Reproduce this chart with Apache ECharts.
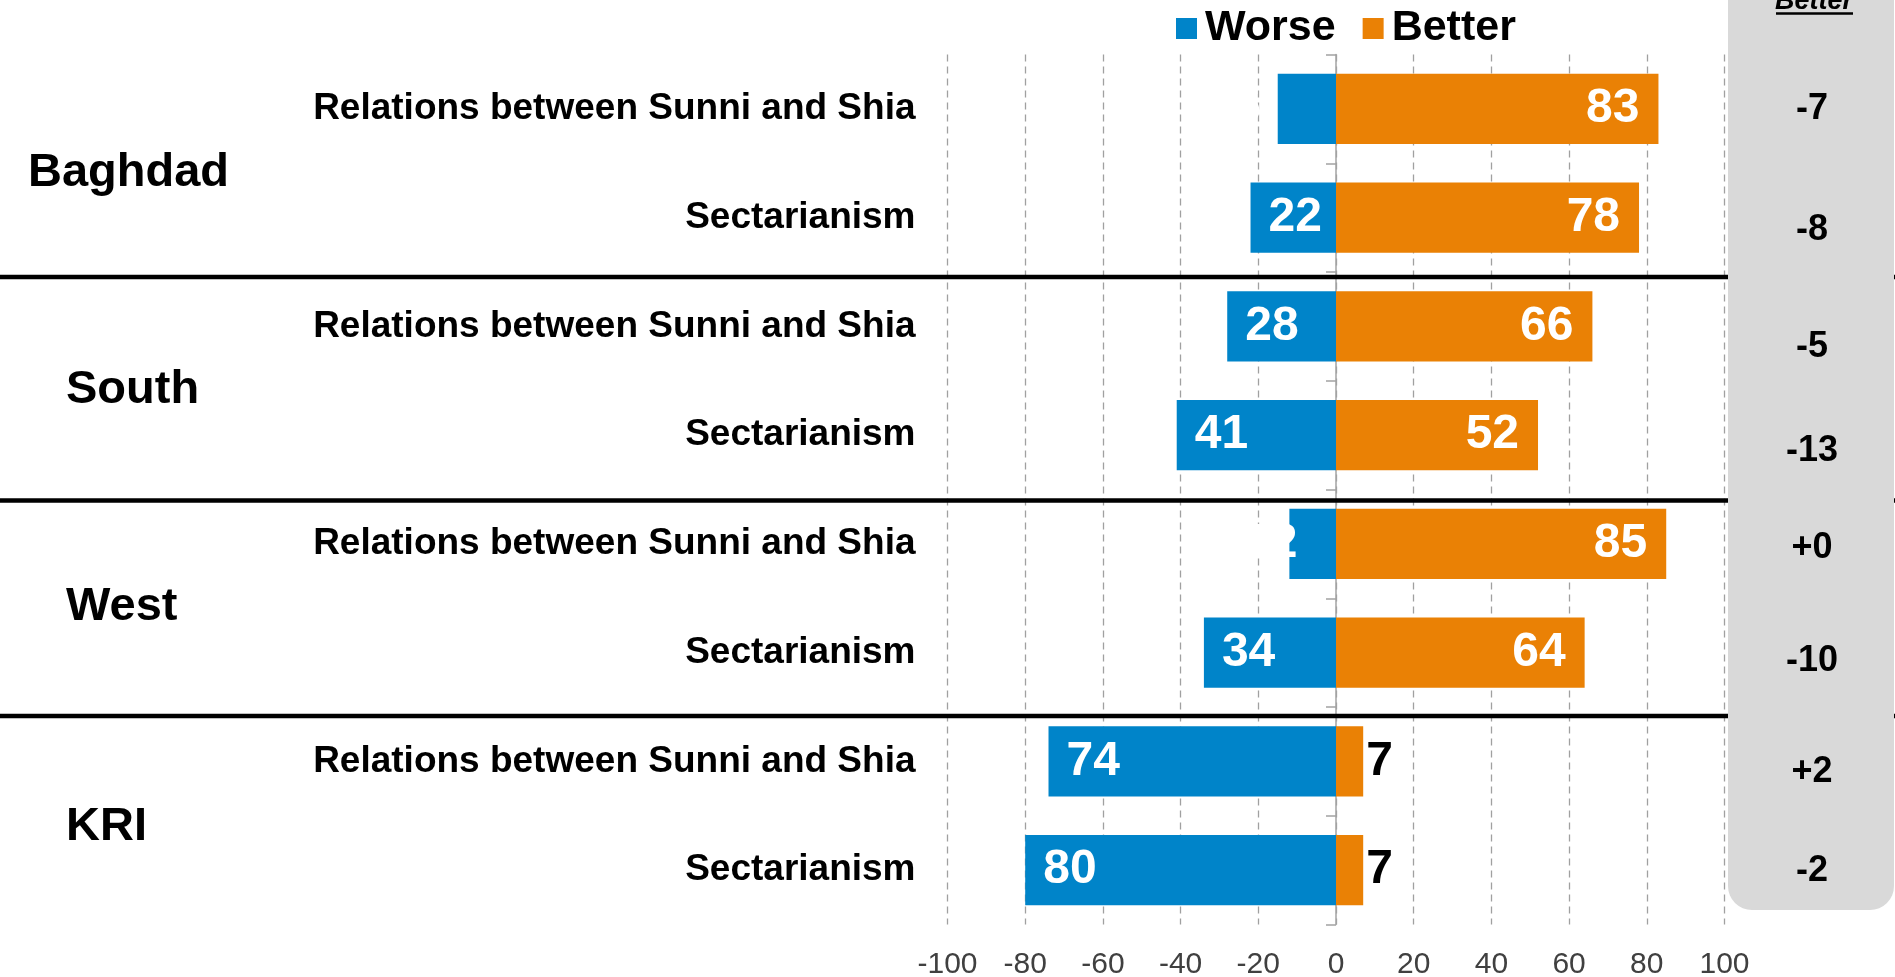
<!DOCTYPE html>
<html>
<head>
<meta charset="utf-8">
<script src="https://cdn.jsdelivr.net/npm/echarts@6/dist/echarts.min.js"></script>
<style>
  html, body { margin: 0; padding: 0; background: #fff; }
  #chart { width: 1895px; height: 977px; }
</style>
</head>
<body>
<div id="chart"></div>
<script>
// Survey results: share saying things got worse / better, by region and topic
const regions = ['Baghdad', 'South', 'West', 'KRI'];
const topics = ['Relations between Sunni and Shia', 'Sectarianism'];
const worse = [15, 22, 28, 41, 12, 34, 74, 80];
const better = [83, 78, 66, 52, 85, 64, 7, 7];
const netChange = ['-7', '-8', '-5', '-13', '+0', '-10', '+2', '-2'];
const xTickMin = -100;
const xTickMax = 100;
const xTickStep = 20;

const FONT = "'Liberation Sans', Arial, Helvetica, sans-serif";
const BLUE = '#0084C9';
const ORANGE = '#EA8105';
const AXIS_GREY = '#a3a3a3';

// one category per region/topic pair, top to bottom
const categories = [];
regions.forEach(r => topics.forEach(t => categories.push(r + '|' + t)));

// short "worse" bars: the value label sits just off the bar's left end
const worseLabelOutside = { 0: 17, 4: -8 };

const worseData = worse.map((v, i) => {
  const item = { value: -v };
  if (worseLabelOutside[i] !== undefined) {
    item.label = { position: 'left', distance: worseLabelOutside[i] };
  }
  return item;
});

const betterData = better.map(v => {
  const item = { value: v };
  if (v < 10) {
    item.label = { position: 'right', distance: 3, color: '#000' };
  }
  return item;
});

const barLabelText = { fontFamily: FONT, fontSize: 48, fontWeight: 'bold', color: '#fff' };

const chart = echarts.init(document.getElementById('chart'), null, { renderer: 'canvas' });

// fixed layout pieces: region names, group separators, side panel
const regionLabels = [
  { x: 28, y: 173 }, { x: 66, y: 390 }, { x: 66, y: 607 }, { x: 66, y: 827 }
];
const separatorY = [277, 500.5, 716];
const netLabelY = [109, 230, 347, 451, 548, 661, 772, 871];

const graphics = [];
separatorY.forEach(y => graphics.push({
  type: 'line', z: 5, silent: true,
  shape: { x1: 0, y1: y, x2: 1895, y2: y },
  style: { stroke: '#000', lineWidth: 4.5 }
}));
regions.forEach((r, i) => graphics.push({
  type: 'text', z: 6, silent: true,
  x: regionLabels[i].x, y: regionLabels[i].y,
  style: { text: r, font: 'bold 47px ' + FONT, fill: '#000', align: 'left', verticalAlign: 'middle' }
}));
graphics.push({
  type: 'rect', z: 10, silent: true,
  shape: { x: 1728, y: -40, width: 166, height: 950, r: 24 },
  style: { fill: '#d9d9d9' }
});
graphics.push({
  type: 'text', z: 11, silent: true,
  x: 1814, y: 1.5,
  style: { text: 'Better', font: 'italic bold 27px ' + FONT, fill: '#000', align: 'center', verticalAlign: 'middle' }
});
graphics.push({
  type: 'line', z: 11, silent: true,
  shape: { x1: 1776, y1: 13.5, x2: 1853, y2: 13.5 },
  style: { stroke: '#000', lineWidth: 2.5 }
});
netChange.forEach((t, i) => graphics.push({
  type: 'text', z: 11, silent: true,
  x: 1812, y: netLabelY[i],
  style: { text: t, font: 'bold 36px ' + FONT, fill: '#000', align: 'center', verticalAlign: 'middle' }
}));

const tickStyle = { color: AXIS_GREY, width: 1.5 };

const option = {
  animation: false,
  backgroundColor: '#fff',
  textStyle: { fontFamily: FONT },
  legend: {
    data: ['Worse', 'Better'],
    left: 1171, top: 2,
    icon: 'rect',
    itemWidth: 21, itemHeight: 21, itemGap: 27,
    selectedMode: false,
    textStyle: { fontFamily: FONT, fontSize: 43, fontWeight: 'bold', color: '#000', padding: [0, 0, 0, 3] }
  },
  grid: {
    left: 947.5, right: 170.5, top: 54.5, bottom: 52.5,
    containLabel: false, outerBoundsMode: 'none'
  },
  xAxis: [
    {
      type: 'value', min: xTickMin, max: xTickMax, interval: xTickStep,
      axisLine: { show: false, onZero: false },
      axisTick: { show: false },
      axisLabel: { fontFamily: FONT, fontSize: 30, color: '#404040', margin: 25 },
      splitLine: { show: true, lineStyle: { type: [7, 5], color: '#a0a0a0', width: 1.3 } }
    },
    {
      type: 'value', min: xTickMin, max: xTickMax, show: false
    }
  ],
  yAxis: [
    {
      type: 'category', data: categories, inverse: true, position: 'left',
      axisLine: { show: true, onZero: true, onZeroAxisIndex: 0, lineStyle: tickStyle },
      axisTick: { show: true, length: 10, lineStyle: tickStyle },
      axisLabel: { show: false },
      splitLine: { show: false }
    },
    {
      type: 'category', data: categories, inverse: true, position: 'left',
      axisLine: { show: false, onZero: true, onZeroAxisIndex: 1 },
      axisTick: { show: true, alignWithLabel: true, length: 10, lineStyle: tickStyle },
      axisLabel: { show: false },
      splitLine: { show: false }
    },
    {
      type: 'category', data: categories, inverse: true, position: 'left',
      axisLine: { show: false, onZero: false },
      axisTick: { show: false },
      axisLabel: {
        margin: 32, fontFamily: FONT, fontSize: 37, fontWeight: 'bold', color: '#000',
        padding: [5, 0, 0, 0],
        formatter: v => v.split('|')[1]
      },
      splitLine: { show: false }
    }
  ],
  series: [
    {
      name: 'Worse', type: 'bar', yAxisIndex: 0, xAxisIndex: 0,
      data: worseData,
      barCategoryGap: '35.5%', barGap: '-100%',
      itemStyle: { color: BLUE },
      label: {
        show: true, position: 'insideLeft', distance: 18,
        formatter: p => Math.abs(p.value),
        ...barLabelText
      },
      z: 3
    },
    {
      name: 'Better', type: 'bar', yAxisIndex: 0, xAxisIndex: 0,
      data: betterData,
      barCategoryGap: '35.5%', barGap: '-100%',
      itemStyle: { color: ORANGE },
      label: {
        show: true, position: 'insideRight', distance: 19,
        formatter: p => p.value,
        ...barLabelText
      },
      z: 3
    }
  ],
  graphic: { elements: graphics }
};

chart.setOption(option);
</script>
</body>
</html>
